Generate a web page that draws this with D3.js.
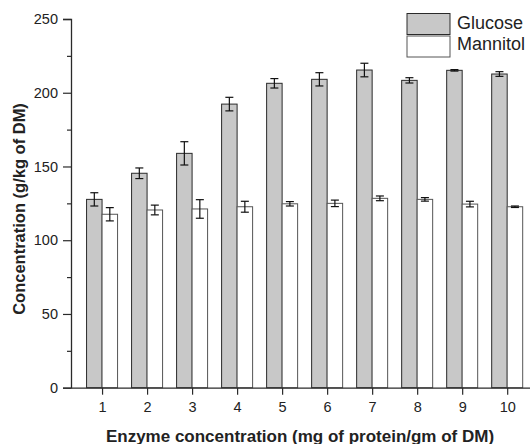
<!DOCTYPE html>
<html>
<head>
<meta charset="utf-8">
<script src="https://cdn.jsdelivr.net/npm/d3@7"></script>
<style>
  body { margin: 0; background: #fff; }
  text { font-family: "Liberation Sans", Arial, sans-serif; fill: #222; }
</style>
</head>
<body>
<script>
const enzyme = [1, 2, 3, 4, 5, 6, 7, 8, 9, 10];
const glucose = [127.7, 145.4, 158.9, 192.3, 206.4, 209.1, 215.4, 208.4, 215.2, 212.7];
const glucoseErr = [4.5, 3.6, 7.9, 4.6, 3.2, 4.5, 4.6, 1.8, 0.5, 1.6];
const mannitol = [117.6, 120.5, 121.2, 122.7, 124.7, 125.0, 128.4, 127.7, 124.5, 122.7];
const mannitolErr = [4.5, 3.3, 6.3, 3.7, 1.5, 2.2, 1.6, 1.2, 1.9, 0.5];
const yTicks = [0, 50, 100, 150, 200, 250];

const width = 530, height = 444;
const svg = d3.select("body").append("svg")
    .attr("width", width)
    .attr("height", height);

const xscale = d3.scaleLinear().domain([0.31, 10.64]).range([71, 536]);
const yscale = d3.scaleLinear().domain([0, 250]).range([387.7, 19]);
const barW = 15.5;
const dark = "#2a2a2a";

// bars
const series = [
    {name: "Glucose", vals: glucose, errs: glucoseErr, fill: "#c8c8c8", stroke: dark, off: -barW},
    {name: "Mannitol", vals: mannitol, errs: mannitolErr, fill: "#ffffff", stroke: "#555", off: 0}
];

series.forEach(s => {
    const g = svg.append("g");
    g.selectAll("rect")
        .data(enzyme)
        .enter()
        .append("rect")
        .attr("x", (d, i) => xscale(d) + s.off)
        .attr("y", (d, i) => yscale(s.vals[i]))
        .attr("width", barW)
        .attr("height", (d, i) => yscale(0) - yscale(s.vals[i]))
        .attr("fill", s.fill)
        .attr("stroke", s.stroke)
        .attr("stroke-width", 1);

    // error bars
    const eb = g.selectAll("g.err")
        .data(enzyme)
        .enter()
        .append("g")
        .attr("stroke", "#111")
        .attr("stroke-width", 1.2);
    eb.append("line")
        .attr("x1", (d, i) => xscale(d) + s.off + barW / 2)
        .attr("x2", (d, i) => xscale(d) + s.off + barW / 2)
        .attr("y1", (d, i) => yscale(s.vals[i] - s.errs[i]))
        .attr("y2", (d, i) => yscale(s.vals[i] + s.errs[i]));
    [-1, 1].forEach(sign => {
        eb.append("line")
            .attr("x1", (d, i) => xscale(d) + s.off + barW / 2 - 4)
            .attr("x2", (d, i) => xscale(d) + s.off + barW / 2 + 4)
            .attr("y1", (d, i) => yscale(s.vals[i] + sign * s.errs[i]))
            .attr("y2", (d, i) => yscale(s.vals[i] + sign * s.errs[i]));
    });
});

// y axis
svg.append("g")
    .attr("transform", "translate(71,0)")
    .call(d3.axisLeft(yscale).tickValues(yTicks).tickSize(8).tickPadding(5));
svg.append("g")
    .attr("transform", "translate(71,0)")
    .call(d3.axisLeft(yscale).tickValues([25, 75, 125, 175, 225]).tickSize(4).tickFormat(""))
    .select(".domain").remove();

// x axis
svg.append("g")
    .attr("transform", `translate(0,${yscale(0)})`)
    .call(d3.axisBottom(xscale).tickValues(enzyme).tickSize(7).tickPadding(7).tickSizeOuter(0));

svg.selectAll(".domain").attr("stroke", dark).attr("stroke-width", 1.3);
svg.selectAll(".tick line").attr("stroke", dark).attr("stroke-width", 1.2);
svg.selectAll(".tick text")
    .style("font-family", "'Liberation Sans', Arial, sans-serif")
    .style("font-size", "14.5px")
    .attr("fill", "#222");

// axis titles
svg.append("text")
    .attr("transform", "translate(25,209) rotate(-90)")
    .attr("text-anchor", "middle")
    .style("font-size", "16.5px")
    .style("font-weight", "bold")
    .text("Concentration (g/kg of DM)");

svg.append("text")
    .attr("x", 300)
    .attr("y", 441.5)
    .attr("text-anchor", "middle")
    .style("font-size", "17px")
    .style("font-weight", "bold")
    .text("Enzyme concentration (mg of protein/gm of DM)");

// legend
const legend = svg.append("g");
series.forEach((s, i) => {
    legend.append("rect")
        .attr("x", 407)
        .attr("y", 13.5 + i * 22.5)
        .attr("width", 43)
        .attr("height", 21)
        .attr("fill", s.fill)
        .attr("stroke", s.stroke)
        .attr("stroke-width", 1);
    legend.append("text")
        .attr("x", 457)
        .attr("y", 28.5 + i * 21.7)
        .style("font-size", "18px")
        .text(s.name);
});
</script>
</body>
</html>
